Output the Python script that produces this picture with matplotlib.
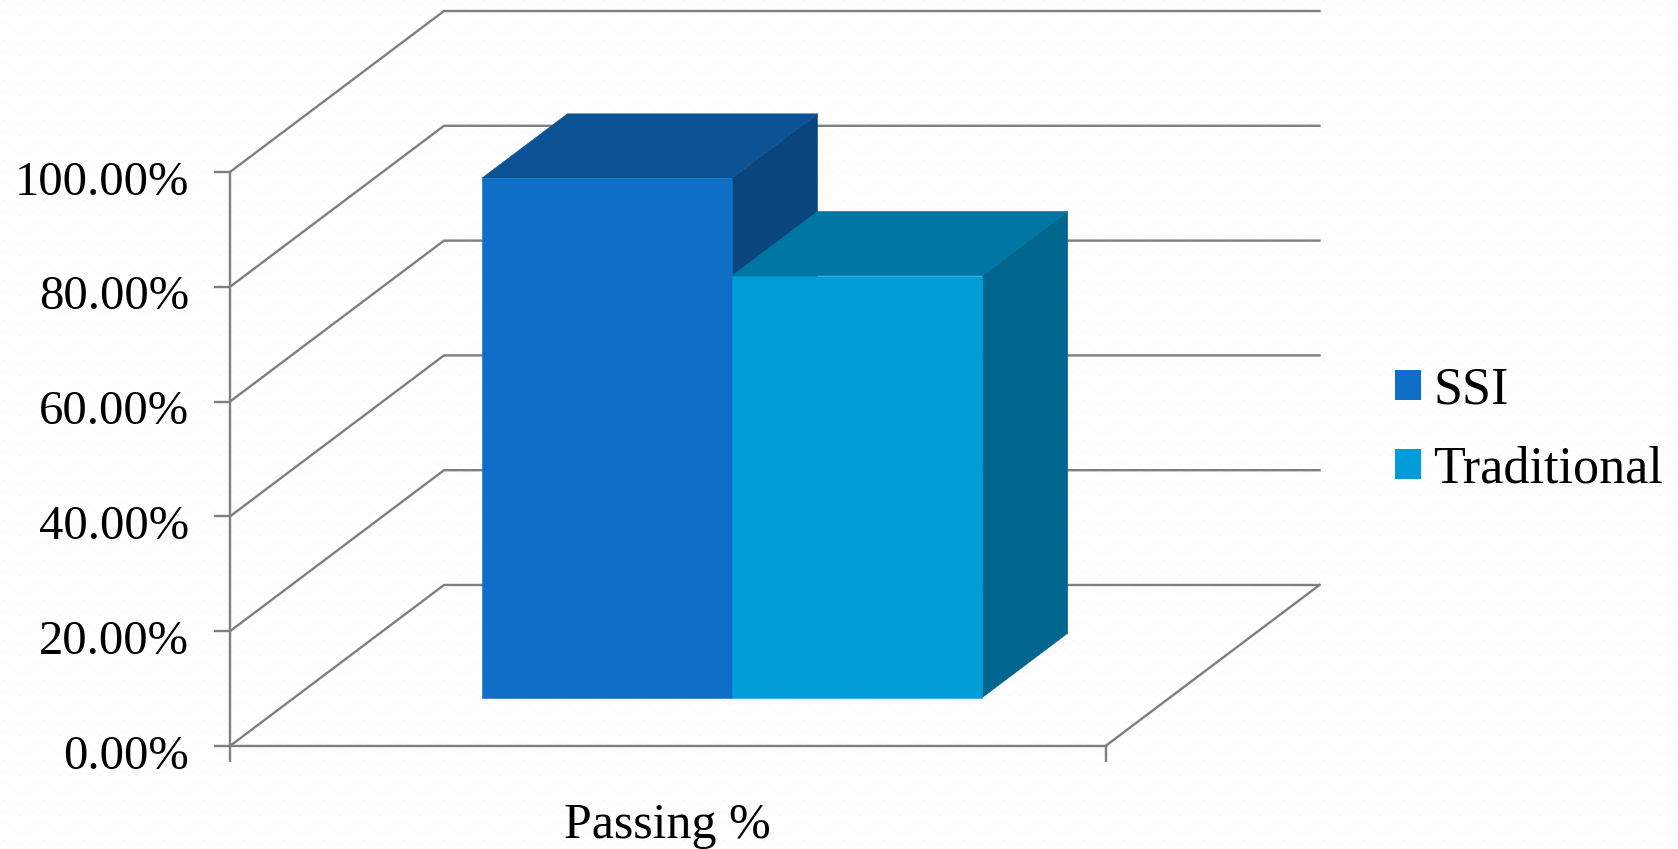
"""
Passing % chart, drawn as an oblique 3D column chart
"""
import matplotlib
matplotlib.use('Agg')
import matplotlib.pyplot as plt
import numpy as np
from matplotlib.patches import Patch
from matplotlib.transforms import Affine2D, IdentityTransform, ScaledTranslation

W, H = 1678, 849
DEPTH_X, DEPTH_Y = 214, 161   # px shift from front to back wall

categories = ['Passing %']
series = ['SSI', 'Traditional']
values = [90.5, 73.5]
y_ticks = [0, 20, 40, 60, 80, 100]
y_labels = ['0.00%', '20.00%', '40.00%', '60.00%', '80.00%', '100.00%']

front_colors = ['#0F6FC6', '#009DD9']
top_colors = ['#0B5395', '#0076A3']
side_colors = ['#0A467D', '#00668E']
grid_color = '#7F7F7F'

plt.rcParams['font.family'] = ['Liberation Serif', 'DejaVu Serif']

fig = plt.figure(figsize=(W / 100, H / 100), dpi=100, facecolor='#FFFFFF')

# faint zigzag paper texture of the slide background
zig = [4, 3, 2, 1, 0, 1, 2, 3, 4, 5]
tile = np.ones((10, 10))
for col, row in enumerate(zig):
    tile[row, col] = 0.972
bg = np.tile(tile, (H // 10 + 1, W // 10 + 1))[:H, :W]
fig.figimage(bg, cmap='gray', vmin=0, vmax=1, zorder=-1)

ax = fig.add_axes([230 / W, 1 - 746 / H, (1105.5 - 230) / W, (746 - 172) / H])
ax.set_facecolor('none')
ax.set_xlim(0, 1)
ax.set_ylim(0, 100)


def to_px(x, y, d):
    # data coords + depth (0 front, 1 back) to display pixels
    px, py = ax.transData.transform((x, y))
    return px + d * DEPTH_X, py + d * DEPTH_Y


def face(points, color, zorder):
    ax.fill([p[0] for p in points], [p[1] for p in points], facecolor=color, edgecolor=color, lw=0.4,
            transform=IdentityTransform(), clip_on=False, zorder=zorder)


def grid_line(points):
    ax.plot([p[0] for p in points], [p[1] for p in points], color=grid_color, lw=1.7,
            transform=IdentityTransform(), clip_on=False, zorder=1, solid_joinstyle='miter')


# walls and floor
for t in y_ticks:
    grid_line([to_px(0, t, 0), to_px(0, t, 1), to_px(1, t, 1)])
grid_line([to_px(1, 0, 0), to_px(1, 0, 1)])

# columns
bar_w = 2 / 7
bar_x = [1.5 / 7, 1.5 / 7 + bar_w]
d0, d1 = 0.3, 0.7
front_shift = Affine2D().translate(d0 * DEPTH_X, d0 * DEPTH_Y)

for i, v in enumerate(values):
    x0, x1 = bar_x[i], bar_x[i] + bar_w
    face([to_px(x1, 0, d0), to_px(x1, 0, d1), to_px(x1, v, d1), to_px(x1, v, d0)], side_colors[i], 3 + i)
    face([to_px(x0, v, d0), to_px(x1, v, d0), to_px(x1, v, d1), to_px(x0, v, d1)], top_colors[i], 3 + i)
    ax.bar(x0, v, width=bar_w, align='edge', color=front_colors[i], edgecolor=front_colors[i], lw=0.4,
           clip_on=False, transform=ax.transData + front_shift, zorder=3 + i)

# axes
ax.set_xlim(0, 1)
ax.set_ylim(0, 100)
for s in ['top', 'right']:
    ax.spines[s].set_visible(False)
for s in ['left', 'bottom']:
    ax.spines[s].set_color(grid_color)
    ax.spines[s].set_linewidth(1.7)

ax.set_yticks(y_ticks)
ax.set_yticklabels(y_labels, fontsize=35, color='black')
ax.tick_params(axis='y', length=11.5, width=1.7, color=grid_color, pad=18)
# labels sit a little below their ticks
for lab in ax.get_yticklabels():
    lab.set_transform(lab.get_transform() + ScaledTranslation(0, -4 / 72, fig.dpi_scale_trans))
ax.set_xticks([0, 1])
ax.set_xticklabels(['', ''])
ax.tick_params(axis='x', length=11.5, width=1.7, color=grid_color)
ax.set_xticks([0.5], minor=True)
ax.set_xticklabels(categories, minor=True, fontsize=36, color='black')
ax.tick_params(axis='x', which='minor', length=0, pad=41)

handles = [Patch(facecolor=c, lw=0) for c in front_colors]
fig.legend(handles, series, loc='center left', bbox_to_anchor=(1395 / W, 1 - 430 / H), frameon=False,
           fontsize=37.5, handlelength=0.5, handleheight=0.5, handletextpad=0.24, labelspacing=0.59,
           borderpad=0, borderaxespad=0)

fig.savefig('out.png', dpi=100, facecolor=fig.get_facecolor())
